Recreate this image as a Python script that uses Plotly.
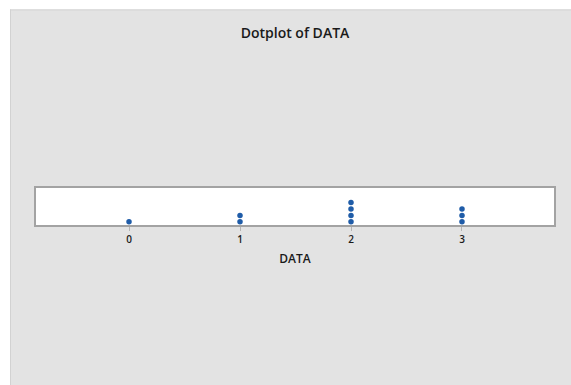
import plotly.graph_objects as go

# Data
values = [0, 1, 2, 3]
counts = [1, 2, 4, 3]
tick_vals = [0, 1, 2, 3]
tick_text = ["0", "1", "2", "3"]

xs, ys = [], []
for v, c in zip(values, counts):
    for k in range(1, c + 1):
        xs.append(v)
        ys.append(k)

W, H = 571, 385
L, T = 36, 188
R = W - 554
B = H - 225.5
PW, PH = W - L - R, H - T - B

def px(x):
    return (x - L) / PW

def py(y):
    return (H - B - y) / PH

fig = go.Figure()
fig.add_trace(go.Scatter(
    x=xs, y=ys, mode="markers",
    marker=dict(size=5.5, color="#1f5ca8", line=dict(width=0)),
    hoverinfo="x", showlegend=False,
))

shapes = [
    # white outer strips (left and top)
    dict(type="rect", xref="paper", yref="paper", x0=px(-5), x1=px(10), y0=py(H + 5), y1=py(-5),
         fillcolor="white", line=dict(width=0), layer="below"),
    dict(type="rect", xref="paper", yref="paper", x0=px(-5), x1=px(W + 5), y0=py(7), y1=py(-5),
         fillcolor="white", line=dict(width=0), layer="below"),
    # thin border lines of the gray panel
    dict(type="line", xref="paper", yref="paper", x0=px(10.5), x1=px(10.5), y0=py(H + 5), y1=py(7),
         line=dict(color="#d2d2d2", width=1), layer="below"),
    dict(type="line", xref="paper", yref="paper", x0=px(10), x1=px(W + 5), y0=py(7.5), y1=py(7.5),
         line=dict(color="#d2d2d2", width=1), layer="below"),
]

fig.update_layout(
    width=W, height=H,
    margin=dict(l=L, r=R, t=T, b=B, pad=0),
    paper_bgcolor="#e3e3e3",
    plot_bgcolor="white",
    shapes=shapes,
    title=dict(text="Dotplot of DATA", xref="container", yref="container",
               x=295 / W, xanchor="center", y=1 - 33 / H, yanchor="middle",
               font=dict(family="Open Sans, sans-serif", size=14, color="#1a1a1a", weight=600)),
    xaxis=dict(
        range=[-0.838, 3.829], tickvals=tick_vals, ticktext=tick_text,
        showgrid=False, zeroline=False,
        showline=True, mirror=True, linecolor="#a3a3a3", linewidth=1.5,
        ticks="outside", ticklen=4, tickcolor="#b5b5b5", tickwidth=1,
        tickfont=dict(family="Open Sans, sans-serif", size=10, color="#1a1a1a", weight=600),
        title=dict(text="DATA", standoff=10,
                   font=dict(family="Open Sans, sans-serif", size=12, color="#1a1a1a", weight=600)),
        fixedrange=True,
    ),
    yaxis=dict(
        range=[0.51, 0.51 + PH / 6.5], showticklabels=False, ticks="",
        showgrid=False, zeroline=False,
        showline=True, mirror=True, linecolor="#a3a3a3", linewidth=1.5,
        fixedrange=True,
    ),
)

fig.write_html(
    "out.html",
    config={"displayModeBar": False},
    post_script="document.body.style.margin='0';document.body.style.overflow='hidden';",
)
